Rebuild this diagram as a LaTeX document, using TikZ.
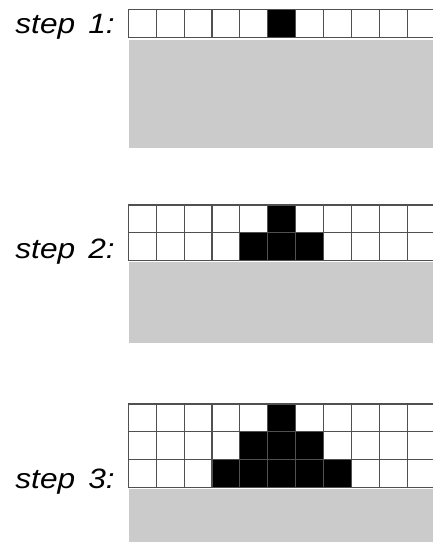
\documentclass[tikz,border=0pt]{standalone}
\usepackage{fontspec}
\newfontfamily\labelfont[WordSpace=1.5,FakeStretch=1.13]{Liberation Sans}
\definecolor{panelgrey}{HTML}{CBCBCB}
\definecolor{gridline}{HTML}{505050}
\begin{document}
\begin{tikzpicture}[x=1pt,y=-1pt,
  cellbox/.style={draw=gridline,line width=1.1pt,fill=white},
  blackcell/.style={draw=gridline,line width=1.1pt,fill=black},
  panel/.style={fill=panelgrey,draw=none},
  steplabel/.style={font=\labelfont\itshape\fontsize{28}{30}\selectfont,anchor=base east,inner sep=0pt}]
\useasboundingbox (0,0) rectangle (433,542);
\clip (0,0) rectangle (433,542);
\def\cw{27.9}
\def\gx{128.3}
% step 1
\fill[panel] (129,39.5) rectangle (440,148);
\foreach \c in {0,...,11}{
  \ifnum\c=5 \def\sty{blackcell}\else\def\sty{cellbox}\fi
  \draw[\sty] ({\gx+\c*\cw},9.5) rectangle ({\gx+(\c+1)*\cw},{9.5+\cw});
}
\node[steplabel] (s1) at (115,33.3) {step 1:};
% step 2
\fill[panel] (129,262) rectangle (440,343.3);
\foreach \r in {0,1}{
  \foreach \c in {0,...,11}{
    \pgfmathtruncatemacro{\d}{abs(\c-5)}
    \ifnum\d>\r \def\sty{cellbox}\else\def\sty{blackcell}\fi
    \draw[\sty] ({\gx+\c*\cw},{205+\r*\cw}) rectangle ({\gx+(\c+1)*\cw},{205+(\r+1)*\cw});
  }
}
\node[steplabel] (s2) at (115,258.3) {step 2:};
% step 3
\fill[panel] (129,489) rectangle (440,545);
\foreach \r in {0,1,2}{
  \foreach \c in {0,...,11}{
    \pgfmathtruncatemacro{\d}{abs(\c-5)}
    \ifnum\d>\r \def\sty{cellbox}\else\def\sty{blackcell}\fi
    \draw[\sty] ({\gx+\c*\cw},{404+\r*\cw}) rectangle ({\gx+(\c+1)*\cw},{404+(\r+1)*\cw});
  }
}
\node[steplabel] (s3) at (115,488.3) {step 3:};
\end{tikzpicture}
\end{document}
